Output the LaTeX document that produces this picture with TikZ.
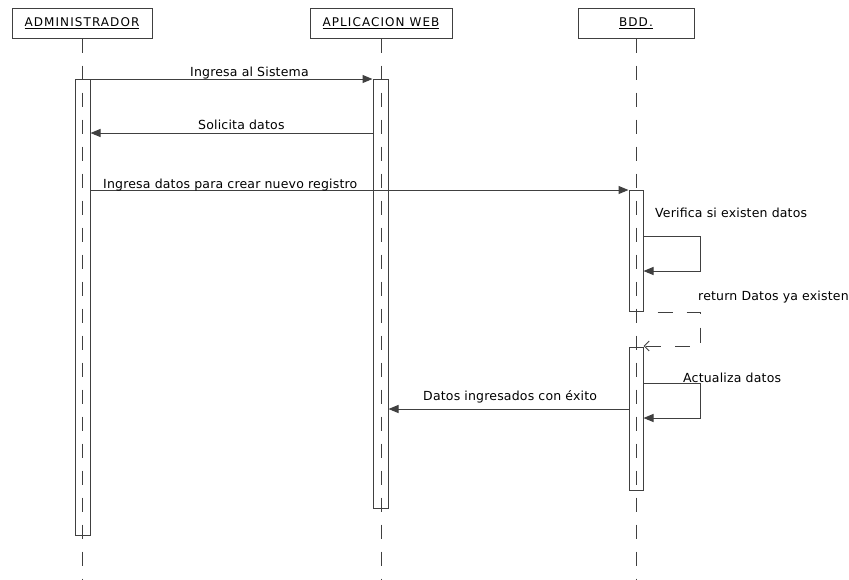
\documentclass[tikz,border=0pt]{standalone}
\usepackage{fontspec}
\setmainfont{DejaVu Sans}
\usetikzlibrary{arrows.meta,calc}
\definecolor{ink}{HTML}{404040}

\begin{document}
\begin{tikzpicture}[x=1pt,y=-1pt,
  lifebox/.style={draw=ink, line width=1pt, minimum height=30pt, inner sep=0pt,
    font=\fontsize{12}{14}\selectfont\addfontfeature{LetterSpace=9}},
  lifeline/.style={draw=ink, line width=1pt, dash pattern=on 14pt off 13pt},
  actbar/.style={draw=ink, line width=1pt, minimum width=15pt, inner sep=0pt},
  msg/.style={draw=ink, line width=1pt, -{Triangle[length=10pt,width=8pt]}},
  reply/.style={draw=ink, line width=1pt, dash pattern=on 15pt off 14pt, dash phase=15pt,
    -{Straight Barb[length=5pt,width=10pt]}},
  lbl/.style={font=\fontsize{12.5}{14}\selectfont\addfontfeature{LetterSpace=1.5}, inner sep=0pt, anchor=base west, text=black}
]
\useasboundingbox (0,0) rectangle (849,579);
\coordinate (bottom) at (0,579);

% participants
\node[lifebox, minimum width=140pt] (admin) at (82,23)  {\underline{ADMINISTRADOR}};
\node[lifebox, minimum width=142pt] (web)   at (381,23) {\underline{APLICACION WEB}};
\node[lifebox, minimum width=116pt] (bdd)   at (636,23) {\underline{BDD.}};

% lifelines
\draw[lifeline] (admin.south) -- (admin.south |- bottom);
\draw[lifeline] (web.south) -- (web.south |- bottom);
\draw[lifeline] (bdd.south) -- (bdd.south |- bottom);

% activation bars
\node[actbar, minimum height=456pt] (actA) at (82.5,307)  {};
\node[actbar, minimum height=429pt] (actW) at (380.5,293.5) {};
\node[actbar, minimum height=121pt, minimum width=14pt] (actB1) at (636,250.5) {};
\node[actbar, minimum height=143pt, minimum width=14pt] (actB2) at (636,418.5) {};

% messages
\draw[msg] (actA.east |- 0,79) -- (actW.west |- 0,79);
\node[lbl] (m1) at (190,76.5) {Ingresa al Sistema};

\draw[msg] (actW.west |- 0,133) -- (actA.east |- 0,133);
\node[lbl] (m2) at (198,129.5) {Solicita datos};

\draw[msg] (actA.east |- 0,190) -- (actB1.west |- 0,190);
\node[lbl] (m3) at (103,188) {Ingresa datos para crear nuevo registro};

\draw[msg] (actB1.east |- 0,236) -- (700,236) -- (700,271) -- (actB1.east |- 0,271);
\node[lbl] (m4) at (655,217) {Verifica si existen datos};

\draw[reply] (actB1.east |- 0,312) -- (700,312) -- (700,346) -- (actB2.east |- 0,346);
\node[lbl] (m5) at (698,300.5) {return Datos ya existen};

\draw[msg] (actB2.east |- 0,383) -- (700,383) -- (700,418) -- (actB2.east |- 0,418);
\node[lbl] (m6) at (683,382.5) {Actualiza datos};

\draw[msg] (actB2.west |- 0,409) -- (actW.east |- 0,409);
\node[lbl] (m7) at (423,400) {Datos ingresados con éxito};
\end{tikzpicture}
\end{document}
